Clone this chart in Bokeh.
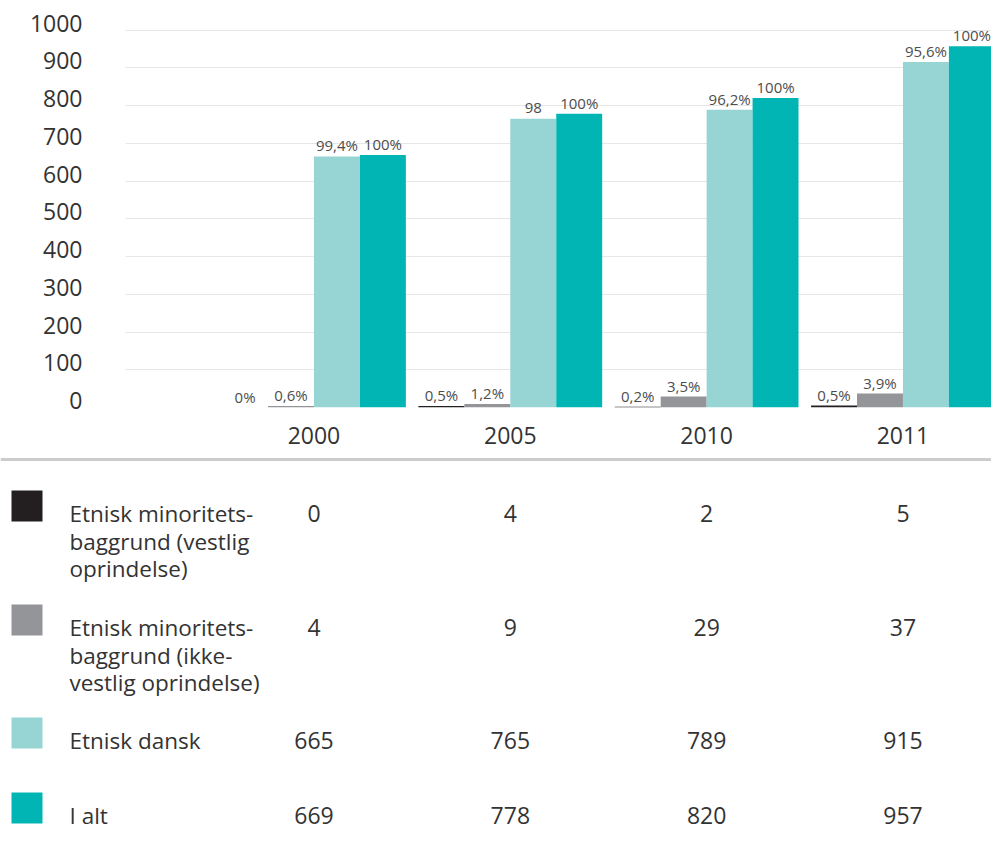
from bokeh.plotting import figure
from bokeh.models import Range1d, FixedTicker, Span, ColumnDataSource, LinearAxis
from bokeh.embed import file_html
from bokeh.resources import INLINE
from bokeh.core.properties import value

# ---------------- data ----------------
years = ["2000", "2005", "2010", "2011"]
series_names = [
    "Etnisk minoritets-\nbaggrund (vestlig\noprindelse)",
    "Etnisk minoritets-\nbaggrund (ikke-\nvestlig oprindelse)",
    "Etnisk dansk",
    "I alt",
]
vestlig = [0, 4, 2, 5]
ikke_vestlig = [4, 9, 29, 37]
dansk = [665, 765, 789, 915]
i_alt = [669, 778, 820, 957]
lbl_vestlig = ["0%", "0,5%", "0,2%", "0,5%"]
lbl_ikke_vestlig = ["0,6%", "1,2%", "3,5%", "3,9%"]
lbl_dansk = ["99,4%", "98", "96,2%", "95,6%"]
lbl_i_alt = ["100%", "100%", "100%", "100%"]
y_ticks = [0, 100, 200, 300, 400, 500, 600, 700, 800, 900, 1000]

colors = ["#231f20", "#939598", "#97d5d5", "#00b5b3"]
series_values = [vestlig, ikke_vestlig, dansk, i_alt]
series_labels = [lbl_vestlig, lbl_ikke_vestlig, lbl_dansk, lbl_i_alt]

FONT = "Open Sans"
TXT = "#333333"

# ---------------- layout constants ----------------
W = 991
TOP_H = 457
FRAME_LEFT = 125
FRAME_W = W - FRAME_LEFT
X0, X1 = -0.96, 3.451
UNIT = (X1 - X0) / FRAME_W
BAR_W = 0.234
offsets = [-1.5 * BAR_W, -0.5 * BAR_W, 0.5 * BAR_W, 1.5 * BAR_W]
Y_END = 1000 * 397 / 377.5
LABEL_SHIFT = 7 * 1000 / 377.5  # tick labels sit slightly above their gridlines

# ---------------- bar chart ----------------
p = figure(width=W, height=TOP_H, output_backend="svg", toolbar_location=None,
           x_range=Range1d(X0, X1), y_range=Range1d(0, Y_END),
           min_border_left=FRAME_LEFT, min_border_right=0, min_border_top=10,
           min_border_bottom=TOP_H - 407)
p.outline_line_color = None
p.background_fill_color = "white"
p.border_fill_color = "white"

idx = list(range(len(years)))
for k in range(4):
    src = ColumnDataSource(dict(x=[i + offsets[k] for i in idx],
                                top=series_values[k],
                                lab=series_labels[k]))
    p.vbar(x="x", top="top", width=BAR_W, source=src,
           fill_color=colors[k], line_color=None)
    p.text(x="x", y="top", text="lab", source=src, text_align="center",
           text_baseline="middle", y_offset=-11,
           text_font=value(FONT), text_font_size="15px", text_color="#4d4d4d")

p.xgrid.grid_line_color = None
p.ygrid.grid_line_color = "#e6e6e6"
p.ygrid.grid_line_width = 1
p.ygrid.ticker = FixedTicker(ticks=y_ticks)

main_y = p.yaxis[0]
main_y.visible = False

p.extra_y_ranges = {"lbl": Range1d(-LABEL_SHIFT, Y_END - LABEL_SHIFT)}
yax = LinearAxis(y_range_name="lbl", ticker=FixedTicker(ticks=y_ticks))
p.add_layout(yax, "left")

xax = p.xaxis[0]
xax.ticker = FixedTicker(ticks=idx)
xax.major_label_overrides = {i: y for i, y in zip(idx, years)}
for ax in (xax, yax):
    ax.axis_line_color = None
    ax.major_tick_line_color = None
    ax.minor_tick_line_color = None
    ax.major_label_text_font = FONT
    ax.major_label_text_font_size = "23px"
    ax.major_label_text_color = TXT
yax.major_label_standoff = 37
xax.major_label_standoff = 13

# ---------------- table ----------------
T_H = 856 - TOP_H
t = figure(width=W, height=T_H, output_backend="svg", toolbar_location=None,
           x_range=Range1d(X0 - FRAME_LEFT * UNIT, X1),
           y_range=Range1d(856, TOP_H),
           min_border=0, x_axis_location=None, y_axis_location=None)
t.outline_line_color = None
t.xgrid.grid_line_color = None
t.ygrid.grid_line_color = None


def px(v):
    return X0 - FRAME_LEFT * UNIT + v * UNIT


t.add_layout(Span(location=459, dimension="width", line_color="#cccccc", line_width=3))

row_y = [513, 627, 740, 815]
LINE_H = 27.5
for k in range(4):
    y = row_y[k]
    t.quad(left=[px(11)], right=[px(42)], top=[y - 23], bottom=[y + 8],
           fill_color=colors[k], line_color=None)
    lines = series_names[k].split("\n")
    t.text(x=[px(69)] * len(lines), y=[y + j * LINE_H for j in range(len(lines))],
           text=lines, text_align="left", text_baseline="middle",
           text_font=value(FONT), text_font_size="22.5px", text_color=TXT)
    t.text(x=idx, y=[y] * len(idx), text=[str(v) for v in series_values[k]],
           text_align="center", text_baseline="middle",
           text_font=value(FONT), text_font_size="23px", text_color=TXT)

open("out.html", "w").write(file_html([p, t], INLINE))
